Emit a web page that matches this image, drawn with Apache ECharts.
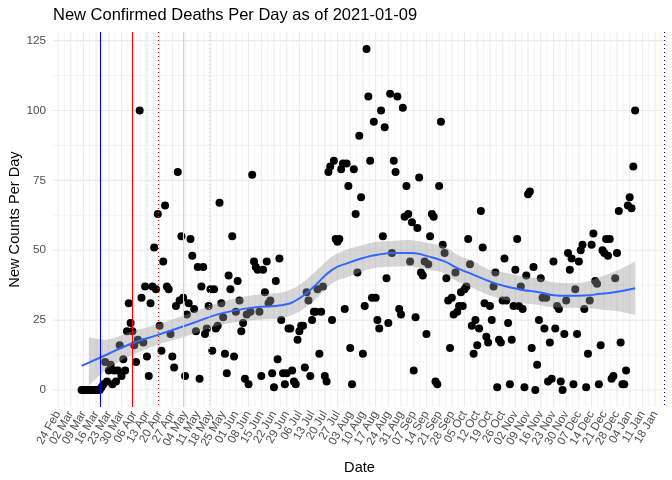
<!doctype html>
<html>
    <head>
        <meta charset="utf-8">
        <title>New Confirmed Deaths Per Day</title>
        <style>
            html, body { margin: 0; padding: 0; background: #fff; }
            #main { width: 672px; height: 480px; }
        </style>
    </head>
    <body>
        <div id="main"></div>
        <script src="https://cdn.jsdelivr.net/npm/echarts@6/dist/echarts.min.js"></script>
        <script>
            // daily new deaths, one value per day starting at firstDate
            var firstDate = '2020-03-08';
            var deaths = [
                0, 0, 0, 0, 0, 0, 0, 0, 0, 0, 0,
                1, 2, 10, 3, 7, 9, 2, 7, 3, 7, 16, 5, 11, 7, 21, 31, 24, 21,
                16,
                10, 18, 100, 33, 17, 37, 12, 5, 31, 37, 51, 36, 63, 23,
                14, 46, 66, 37, 36, 20, 12, 8, 30, 78, 32, 55, 33, 5, 27, 31, 54, 48, 29, 21,
                44, 4, 37, 44, 20, 22, 30, 36, 14, 36, 22, 23, 67, 31, 26, 13, 6, 41, 36, 55,
                12, 28, 39, 32, 21, 24, 4, 27,
                2, 28, 77, 46, 44, 43, 28, 5, 43, 35, 46,
                31, 32, 6, 1, 39, 11, 47, 25, 6, 2, 6, 22, 22, 7, 3, 2, 18, 21, 23, 23, 8, 35,
                32, 5, 25, 28, 28, 36, 13, 28, 37,
                5, 3, 78, 80, 25, 82, 54, 53, 54, 79, 81, 29, 81, 73, 15, 2, 79, 63, 42, 91, 69,
                13, 30, 122, 105, 82, 33, 96, 33, 25, 22, 100, 55, 94, 40, 24, 106, 49, 82, 78,
                105, 29, 27, 101, 62, 73, 63, 46, 60, 7, 26, 58, 76, 42, 41, 46, 20, 45, 55, 63,
                62, 3, 2, 73, 96, 52, 49,
                40, 32, 15, 33, 27, 42, 28, 30, 35, 30, 36, 37, 54, 45, 23, 13, 25, 16, 22, 64,
                51, 31, 19, 17, 30, 25, 37, 42, 1, 18, 17, 32, 47, 32, 24, 2, 18, 30, 43, 54,
                30, 37, 29, 1, 41, 70, 71, 15, 44, 0, 9, 25,
                40, 33, 22, 33, 3, 17, 4, 46, 22, 30, 29, 3, 0, 20, 32, 49, 43, 47, 2, 36, 20,
                46, 50, 52, 29, 1, 13, 32, 52, 56, 39, 38, 2, 16, 50, 49, 54, 48, 54, 4, 5, 40,
                49, 64, 17, 2, 2, 7, 66, 69, 65, 80, 100
            ];

            // loess fit
            var smoothDates = ['2020-03-08', '2020-03-22', '2020-04-05', '2020-04-19', '2020-05-06',
                '2020-05-24', '2020-06-11', '2020-06-27', '2020-07-06', '2020-07-15', '2020-07-24',
                '2020-08-02', '2020-08-10', '2020-08-18', '2020-08-28', '2020-09-06', '2020-09-15',
                '2020-09-24', '2020-10-01', '2020-10-10', '2020-10-19', '2020-10-28', '2020-11-06',
                '2020-11-15', '2020-11-22', '2020-12-01', '2020-12-10', '2020-12-19', '2020-12-29',
                '2021-01-07'];
            var smoothFit = [8.6, 12.7, 16.7, 19.7, 23.4, 27.4, 29.5, 30.4, 32.8, 37.6, 43, 45.5,
                47.2, 48.4, 49, 49, 47.8, 46, 43.6, 41.2, 38.8, 37, 35.8, 35, 34, 33.7, 33.8, 34.4,
                35.2, 36.4];

            // confidence band (starts where its lower edge comes above zero)
            var bandDates = ['2020-03-12', '2020-03-22', '2020-04-05', '2020-04-19', '2020-05-06',
                '2020-05-24', '2020-06-11', '2020-06-27', '2020-07-06', '2020-07-15', '2020-07-24',
                '2020-08-02', '2020-08-10', '2020-08-18', '2020-08-28', '2020-09-06', '2020-09-15',
                '2020-09-24', '2020-10-01', '2020-10-10', '2020-10-19', '2020-10-28', '2020-11-06',
                '2020-11-15', '2020-11-22', '2020-12-01', '2020-12-10', '2020-12-19', '2020-12-29',
                '2021-01-07'];
            var bandLow = [1.5, 7.5, 12.5, 16.2, 19.5, 23.3, 25, 25.8, 28.1, 32.5, 38.2, 40.5,
                42.5, 43.8, 44.2, 44.2, 43, 41.8, 38.8, 36.3, 33.8, 32.1, 31, 30.4, 29.6, 29.4, 29.3,
                28.8, 28.1, 26.9];
            var bandHigh = [18.9, 18, 21, 23.5, 27.3, 31.5, 34, 35, 37.6, 42.5, 47.8, 50.4, 51.9,
                53, 53.4, 53.6, 52.6, 51.3, 48.4, 46, 43, 41.9, 40.6, 40, 38.6, 38.2, 38.5, 40.5,
                43, 46];

            // reference dates drawn as vertical lines
            var refDates = ['2020-03-18', '2020-04-05', '2020-04-19', '2020-05-03', '2020-05-17', '2021-01-23'];

            var yTicks = [0, 25, 50, 75, 100, 125];
            var axisStart = '2020-02-24';   // first weekly tick
            var weekCount = 48;
            var monthNames = ['Jan', 'Feb', 'Mar', 'Apr', 'May', 'Jun', 'Jul', 'Aug', 'Sep', 'Oct', 'Nov', 'Dec'];

            var DAY = 86400000;
            var t0 = Date.parse(axisStart);
            function dayNum(s) { return (Date.parse(s) - t0) / DAY; }
            function fmtDay(v) {
                if (v % 7 !== 0) return '';
                var d = new Date(t0 + v * DAY);
                var dd = d.getUTCDate();
                return (dd < 10 ? '0' + dd : dd) + ' ' + monthNames[d.getUTCMonth()];
            }

            var d0 = dayNum(firstDate);
            var points = deaths.map(function (v, i) { return [d0 + i, v]; });
            var fitData = smoothDates.map(function (s, i) { return [dayNum(s), smoothFit[i]]; });

            var xMin = -2.75, xMax = 335, yMin = -6.1, yMax = 128.1;

            var xTicks = [];
            for (var w = 0; w < weekCount; w++) xTicks.push(w * 7);
            // blank end labels so the axis does not drop a real one at either end
            var xLabelValues = [xMin + 0.25].concat(xTicks, [xMax - 0.25]);

            // grid lines: [value, horizontal?, major?]
            var gridData = [];
            xTicks.forEach(function (v) {
                gridData.push([v, 0, 1]);
                if (v + 3.5 < xMax) gridData.push([v + 3.5, 0, 0]);
            });
            yTicks.forEach(function (v, i) {
                gridData.push([v, 1, 1]);
                if (i < yTicks.length - 1) gridData.push([v + 12.5, 1, 0]);
            });

            var refStyles = [
                { color: '#0000ff', dash: null },
                { color: '#ff0000', dash: null },
                { color: '#ff0000', dash: [1, 3] },
                { color: '#ffc0cb', dash: null },
                { color: '#ffc0cb', dash: [1, 3] },
                { color: '#0000ff', dash: [1, 3] }
            ];

            var font = 'Liberation Sans, Arial, sans-serif';
            var tickText = { color: '#4d4d4d', fontSize: 11.7, fontFamily: font };
            var nameText = { color: '#000', fontSize: 14.6, fontFamily: font };

            var chart = echarts.init(document.getElementById('main'), null, { renderer: 'canvas' });
            chart.setOption({
                animation: false,
                backgroundColor: '#fff',
                title: {
                    text: 'New Confirmed Deaths Per Day as of 2021-01-09',
                    left: 53,
                    top: 7,
                    padding: 0,
                    textStyle: { color: '#000', fontSize: 16.5, fontWeight: 'normal', fontFamily: font }
                },
                grid: { left: 53, right: 6, top: 32, bottom: 73, containLabel: false, outerBoundsMode: 'none' },
                xAxis: {
                    type: 'value',
                    min: xMin,
                    max: xMax,
                    name: 'Date',
                    nameLocation: 'middle',
                    nameGap: 53,
                    nameMoveOverlap: false,
                    nameTextStyle: nameText,
                    axisLine: { show: false },
                    axisTick: { show: false },
                    splitLine: { show: false },
                    axisLabel: Object.assign({
                        customValues: xLabelValues,
                        rotate: 60,
                        margin: 5,
                        showMinLabel: false,
                        showMaxLabel: false,
                        hideOverlap: false,
                        formatter: fmtDay
                    }, tickText)
                },
                yAxis: {
                    type: 'value',
                    min: yMin,
                    max: yMax,
                    name: 'New Counts Per Day',
                    nameLocation: 'middle',
                    nameGap: 31,
                    nameMoveOverlap: false,
                    nameTextStyle: nameText,
                    axisLine: { show: false },
                    axisTick: { show: false },
                    splitLine: { show: false },
                    axisLabel: Object.assign({
                        customValues: yTicks,
                        margin: 7
                    }, tickText)
                },
                series: [
                    {
                        // panel grid
                        type: 'custom',
                        silent: true,
                        z: 0,
                        data: gridData,
                        renderItem: function (params, api) {
                            var cs = params.coordSys;
                            var v = api.value(0);
                            var major = api.value(2) === 1;
                            var style = { stroke: '#ebebeb', lineWidth: major ? 1.1 : 0.6 };
                            if (api.value(1) === 1) {
                                var y = api.coord([xMin, v])[1];
                                return { type: 'line', shape: { x1: cs.x, y1: y, x2: cs.x + cs.width, y2: y }, style: style };
                            }
                            var x = api.coord([v, yMin])[0];
                            return { type: 'line', shape: { x1: x, y1: cs.y, x2: x, y2: cs.y + cs.height }, style: style };
                        }
                    },
                    {
                        type: 'scatter',
                        z: 2,
                        symbol: 'circle',
                        symbolSize: 8,
                        itemStyle: { color: '#000', opacity: 1 },
                        data: points
                    },
                    {
                        // confidence band, one polygon
                        type: 'custom',
                        silent: true,
                        z: 3,
                        data: bandDates.map(function (s, i) { return [dayNum(s), bandLow[i], bandHigh[i]]; }),
                        renderItem: function (params, api) {
                            if (params.dataIndex !== 0) return null;
                            var upper = [], lower = [];
                            bandDates.forEach(function (s, i) {
                                upper.push(api.coord([dayNum(s), bandHigh[i]]));
                                lower.unshift(api.coord([dayNum(s), bandLow[i]]));
                            });
                            // doubled end points keep the ends square under smoothing
                            upper.unshift(upper[0]);
                            upper.push(upper[upper.length - 1]);
                            lower.unshift(lower[0]);
                            lower.push(lower[lower.length - 1]);
                            return {
                                type: 'group',
                                children: [{
                                    type: 'polygon',
                                    shape: { points: upper.concat(lower), smooth: 0.3 },
                                    style: { fill: 'rgba(153,153,153,0.4)' }
                                }]
                            };
                        }
                    },
                    {
                        type: 'line',
                        z: 4,
                        smooth: true,
                        symbol: 'none',
                        lineStyle: { color: '#3366ff', width: 2 },
                        data: fitData
                    },
                    {
                        // reference date lines
                        type: 'custom',
                        silent: true,
                        z: 5,
                        data: refDates.map(function (s, i) { return [dayNum(s), i]; }),
                        renderItem: function (params, api) {
                            var cs = params.coordSys;
                            var x = Math.round(api.coord([api.value(0), yMin])[0]) + 0.5;
                            var st = refStyles[api.value(1)];
                            return {
                                type: 'line',
                                shape: { x1: x, y1: cs.y, x2: x, y2: cs.y + cs.height },
                                style: { stroke: st.color, lineWidth: 1.1, lineDash: st.dash }
                            };
                        }
                    }
                ]
            });

            window.onresize = chart.resize;
        </script>
    </body>
</html>
